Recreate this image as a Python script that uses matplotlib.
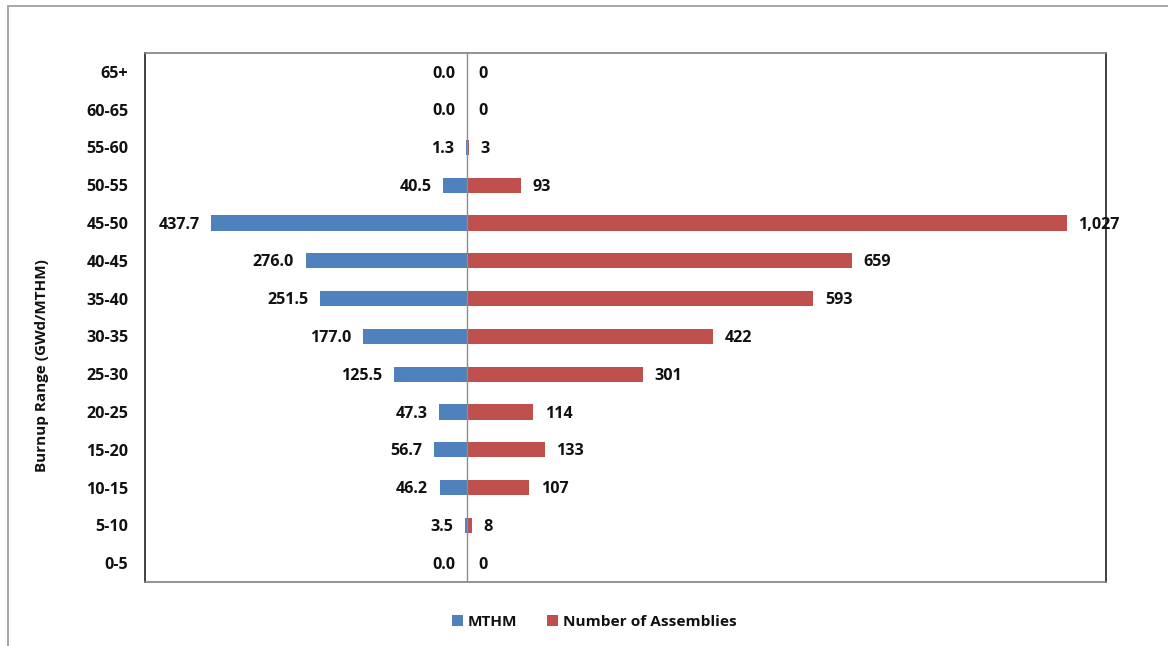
import matplotlib
matplotlib.use("Agg")
import matplotlib.pyplot as plt
from matplotlib.patches import Rectangle

plt.rcParams['font.family'] = ['Open Sans', 'DejaVu Sans']

ranges = ["0-5", "5-10", "10-15", "15-20", "20-25", "25-30", "30-35",
          "35-40", "40-45", "45-50", "50-55", "55-60", "60-65", "65+"]
mthm = [0.0, 3.5, 46.2, 56.7, 47.3, 125.5, 177.0,
        251.5, 276.0, 437.7, 40.5, 1.3, 0.0, 0.0]
assemblies = [0, 8, 107, 133, 114, 301, 422,
              593, 659, 1027, 93, 3, 0, 0]

blue = "#4F81BD"
red = "#C0504D"
txt = "#111111"
fs = 11.6

fig = plt.figure(figsize=(11.68, 6.46), dpi=100)
ax = fig.add_axes([145/1168, 1-582/646, (1106-145)/1168, (582-53)/646])

y = list(range(len(ranges)))
h = 0.4
ax.barh(y, [-v for v in mthm], height=h, color=blue, label="MTHM", zorder=2)
ax.barh(y, assemblies, height=h, color=red, label="Number of Assemblies", zorder=2)

ax.set_xlim(-551, 1094)
ax.set_ylim(-0.5, len(ranges) - 0.5)
ax.axvline(0, color="#8C8C8C", lw=1.0, zorder=3)

for yi, m, a in zip(y, mthm, assemblies):
    ax.annotate(f"{m:.1f}", xy=(-m, yi), xytext=(-8.5, -1.2), textcoords="offset points",
                ha="right", va="center", fontsize=fs, fontweight="bold", color=txt)
    ax.annotate(f"{a:,}", xy=(a, yi), xytext=(8.3, -1.2), textcoords="offset points",
                ha="left", va="center", fontsize=fs, fontweight="bold", color=txt)

ax.set_yticks(y)
ax.set_yticklabels(ranges, fontsize=fs, fontweight="bold", color=txt)
ax.tick_params(axis="y", length=0, pad=12)
ax.set_xticks([])

for side in ["top", "bottom"]:
    ax.spines[side].set_color("#808080")
    ax.spines[side].set_linewidth(1.2)
for side in ["left", "right"]:
    ax.spines[side].set_color("#202020")
    ax.spines[side].set_linewidth(1.2)

fig.text(42/1168, 1-366/646, "Burnup Range (GWd/MTHM)", rotation=90,
         ha="center", va="center", fontsize=11, fontweight="bold", color=txt)

leg = fig.legend(loc="center", bbox_to_anchor=(594/1168, 1-622/646), ncol=2,
                 frameon=False, prop={"weight": "bold", "size": 11.1},
                 handlelength=0.75, handleheight=0.75, handletextpad=0.3, columnspacing=1.9)
for t in leg.get_texts():
    t.set_color(txt)

# outer chart frame
fig.patches.append(Rectangle((8/1168, -0.1), 1.2, 1-6/646 + 0.1, transform=fig.transFigure,
                             fill=False, edgecolor="#A0A0A0", lw=1.3))

fig.savefig("out.png", dpi=100)
